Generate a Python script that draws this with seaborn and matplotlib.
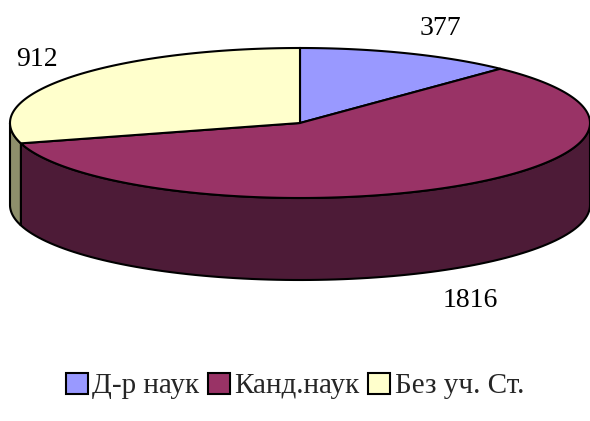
import numpy as np
import matplotlib
matplotlib.use("Agg")
import matplotlib.pyplot as plt
import seaborn as sns
from matplotlib.patches import Polygon, Patch

# Data
labels = ["Д-р наук", "Канд.наук", "Без уч. Ст."]
values = [377, 1816, 912]
top_colors = ["#9999FF", "#993366", "#FFFFCC"]
side_colors = ["#4D4D80", "#4D1B37", "#8E8F6B"]

sns.set_style("white")
plt.rcParams["font.family"] = ["Liberation Serif", "DejaVu Serif"]

# Geometry of the 3D pie (pixel units)
cx, cy, rx, ry, depth = 300, 123, 290, 75, 82
label_nudge = [(18, 8), (0, 1), (0, 3)]


def pt(theta, dz=0.0):
    # theta in degrees, clockwise from 12 o'clock
    t = np.radians(theta)
    return cx + rx * np.sin(t), cy - ry * np.cos(t) + dz


fig = plt.figure(figsize=(5.9, 4.21), dpi=100)
ax = fig.add_axes([0, 0, 1, 1])
ax.set_xlim(0, 590)
ax.set_ylim(421, 0)
ax.axis("off")

total = sum(values)
bounds = np.concatenate([[0], np.cumsum(values) / total * 360])

# side walls (front half only: 90..270 deg)
for i in range(len(values)):
    a0, a1 = max(bounds[i], 90), min(bounds[i + 1], 270)
    if a1 <= a0:
        continue
    th = np.linspace(a0, a1, 100)
    upper = [pt(t) for t in th]
    lower = [pt(t, depth) for t in th[::-1]]
    ax.add_patch(Polygon(upper + lower, closed=True, facecolor=side_colors[i],
                         edgecolor="black", linewidth=1.5, zorder=1))

# top face
for i in range(len(values)):
    th = np.linspace(bounds[i], bounds[i + 1], 200)
    verts = [(cx, cy)] + [pt(t) for t in th]
    ax.add_patch(Polygon(verts, closed=True, facecolor=top_colors[i],
                         edgecolor="black", linewidth=1.5, zorder=2))

# value labels
for i, v in enumerate(values):
    mid = (bounds[i] + bounds[i + 1]) / 2
    t = np.radians(mid)
    x = cx + (rx + 40) * np.sin(t) + label_nudge[i][0]
    y = cy - (ry + 35) * np.cos(t) + label_nudge[i][1]
    if np.cos(t) < 0:
        y += depth
    ax.text(x, y, str(v), ha="center", va="center", fontsize=20, color="black")

handles = [Patch(facecolor=c, edgecolor="black", linewidth=1.5) for c in top_colors]
fig.legend(handles, labels, loc="center", bbox_to_anchor=(0.5, 1 - 386 / 421),
           ncol=3, frameon=False, fontsize=21, handlelength=0.75, handleheight=0.75,
           handletextpad=0.15, columnspacing=0.3)

fig.savefig("out.png", dpi=100)
